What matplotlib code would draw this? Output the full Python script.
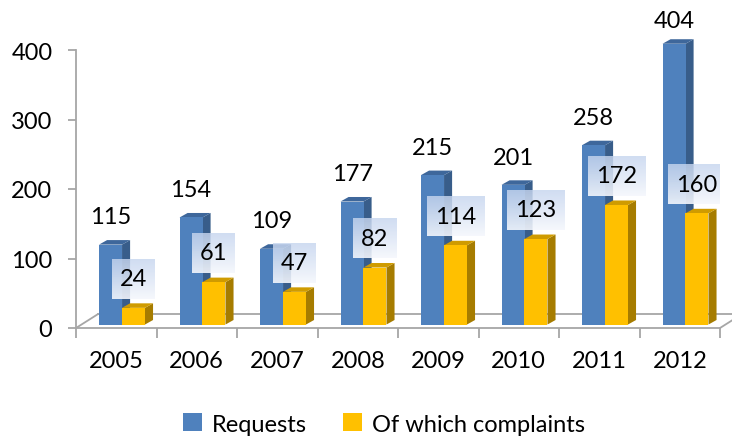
import numpy as np
import matplotlib.pyplot as plt
from matplotlib.patches import Polygon, Patch

years = ["2005", "2006", "2007", "2008", "2009", "2010", "2011", "2012"]
requests = [115, 154, 109, 177, 215, 201, 258, 404]
complaints = [24, 61, 47, 82, 114, 123, 172, 160]

plt.rcParams["font.family"] = ["Lato", "DejaVu Sans"]

BLUE = ("#4f81bd", "#385d8a", "#3e679b")
GOLD = ("#ffc000", "#a67c00", "#cf9b00")
GRAY = "#a6a6a6"
FS = 17

fig = plt.figure(figsize=(7.32, 4.39), dpi=100)
ax = fig.add_axes([76 / 732, 110 / 439, 644 / 732, 278 / 439])
ax.set_xlim(-0.5, 7.5)
ax.set_ylim(0, 400)

# 3d look: depth offset in data units, base lifted a little
dx, dy, base = 0.1, 6.5, 5
bw = 0.286


def bar3d(x0, h, cols, z):
    x1 = x0 + bw
    t = base + h
    front = Polygon([(x0, base), (x1, base), (x1, t), (x0, t)], closed=True,
                    fc=cols[0], ec="none", zorder=z, clip_on=False)
    side = Polygon([(x1, base), (x1 + dx, base + dy), (x1 + dx, t + dy), (x1, t)],
                   closed=True, fc=cols[1], ec="none", zorder=z, clip_on=False)
    top = Polygon([(x0, t), (x0 + dx, t + dy), (x1 + dx, t + dy), (x1, t)],
                  closed=True, fc=cols[2], ec="none", zorder=z, clip_on=False)
    for p in (side, top, front):
        ax.add_patch(p)


# floor
ax.plot([-0.5, -0.5 + 0.273], [0, 20], color=GRAY, lw=1.3, zorder=1, clip_on=False)
ax.plot([-0.5 + 0.273, 7.7], [20, 20], color=GRAY, lw=1.3, zorder=1, clip_on=False)
ax.plot([7.5, 7.5 + 0.273], [0, 20], color=GRAY, lw=1.3, zorder=1, clip_on=False)

# gradient for the label boxes
grad = np.zeros((32, 1, 4))
top_c = np.array([0.78, 0.84, 0.94, 0.82])
bot_c = np.array([0.96, 0.97, 0.99, 0.9])
for k in range(32):
    f = k / 31
    grad[k, 0] = top_c * (1 - f) + bot_c * f

for i in range(len(years)):
    bar3d(i - 0.214, requests[i], BLUE, 3 + i)
    bar3d(i + 0.071, complaints[i], GOLD, 3 + i)
    off = 40 if requests[i] < 400 else 34
    ax.text(i - 0.071, base + requests[i] + off, str(requests[i]), ha="center",
            va="center", fontsize=FS, zorder=20, clip_on=False)

for i in range(len(years)):
    s = str(complaints[i])
    cx = i + 0.214
    cy = base + complaints[i] + 42
    w = (14 + 14.5 * len(s)) / 80.5
    h = 57.5
    ax.imshow(grad, extent=(cx - w / 2, cx + w / 2, cy - h / 2, cy + h / 2),
              aspect="auto", zorder=15, interpolation="bilinear")
    ax.text(cx, cy, s, ha="center", va="center", fontsize=FS, zorder=20)

ax.set_xlim(-0.5, 7.5)
ax.set_ylim(0, 400)

for s in ("top", "right"):
    ax.spines[s].set_visible(False)
for s in ("left", "bottom"):
    ax.spines[s].set_color(GRAY)
    ax.spines[s].set_linewidth(1.3)

ax.set_yticks([0, 100, 200, 300, 400])
ax.tick_params(axis="y", length=6, width=1.3, color=GRAY, labelsize=FS, pad=11)
ax.set_xticks(np.arange(-0.5, 8, 1))
ax.set_xticklabels([])
ax.set_xticks(np.arange(8), minor=True)
ax.set_xticklabels(years, minor=True)
ax.tick_params(axis="x", which="major", length=7, width=1.3, color=GRAY)
ax.tick_params(axis="x", which="minor", length=0, labelsize=FS, pad=16)

handles = [Patch(fc=BLUE[0], ec="none"), Patch(fc=GOLD[0], ec="none")]
fig.legend(handles, ["Requests", "Of which complaints"], loc="center",
           bbox_to_anchor=(384 / 732, 1 - 425 / 439), ncol=2, frameon=False,
           fontsize=FS, handlelength=0.8, handleheight=0.8, handletextpad=0.45,
           columnspacing=1.5)

fig.savefig("out.png", dpi=100)
